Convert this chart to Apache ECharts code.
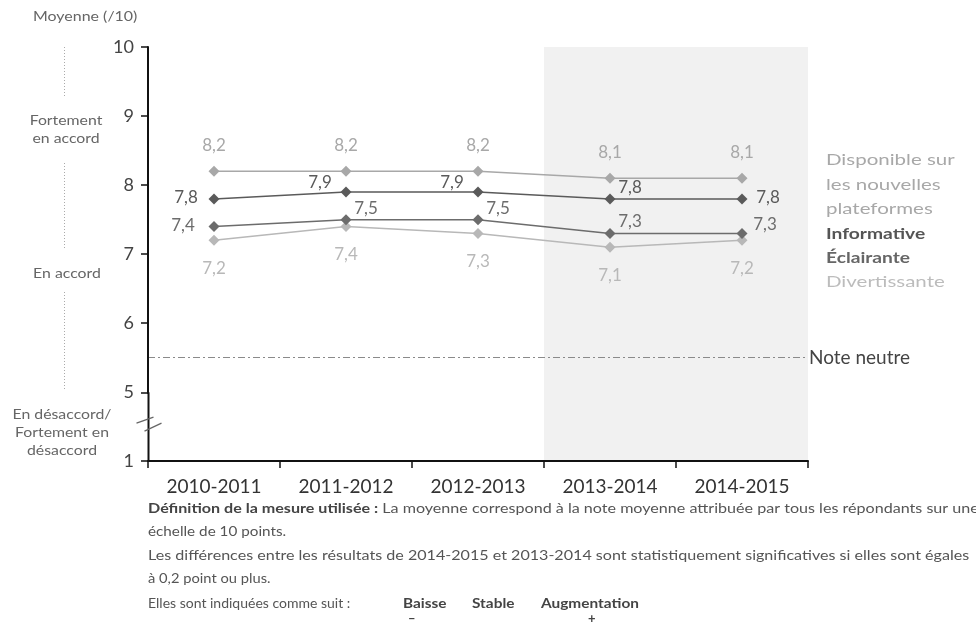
<!DOCTYPE html>
<html>
<head>
<meta charset="utf-8">
<script src="https://cdn.jsdelivr.net/npm/echarts@6/dist/echarts.min.js"></script>
<style>
  html, body { margin: 0; padding: 0; background: #fff; }
  #chart { width: 976px; height: 626px; }
</style>
</head>
<body>
<div id="chart"></div>
<script>
// Années de mesure
const years = ['2010-2011', '2011-2012', '2012-2013', '2013-2014', '2014-2015'];
// Années mises en évidence (fond gris)
const shadedYears = ['2013-2014', '2014-2015'];

// Moyennes (/10) par attribut
const disponible = [8.2, 8.2, 8.2, 8.1, 8.1];
const informative = [7.8, 7.9, 7.9, 7.8, 7.8];
const eclairante = [7.4, 7.5, 7.5, 7.3, 7.3];
const divertissante = [7.2, 7.4, 7.3, 7.1, 7.2];

// Axe vertical : 1, puis 5 à 10 (axe coupé entre 1 et 5)
const yMin = 1;
const yMax = 10;
const yBreak = [1, 5];
const neutralNote = 5.5;

const FONT = 'Lato, "DejaVu Sans", sans-serif';
const fmt = v => String(v).replace('.', ',');

// Décalages des étiquettes (px) autour de chaque point
const infoOffsets = [[-28, -1], [-26, -10], [-26, -10], [20, -11], [26, -1]];
const eclaOffsets = [[-31, -1], [20, -11], [20, -11], [20, -12], [23, -9]];

function withOffsets(values, offsets) {
  return values.map((v, i) => ({
    value: v,
    label: { position: 'inside', offset: offsets[i] }
  }));
}

function lineSeries(name, data, color, labelOpts, z) {
  return {
    name: name,
    type: 'line',
    data: data,
    z: z,
    symbol: 'diamond',
    symbolSize: 11,
    lineStyle: { color: color, width: 1.5 },
    itemStyle: { color: color },
    label: Object.assign({
      show: true,
      color: color,
      fontFamily: FONT,
      fontSize: 17,
      formatter: p => fmt(p.value)
    }, labelOpts),
    emphasis: { disabled: true },
    animation: false
  };
}

const chart = echarts.init(document.getElementById('chart'), null, { renderer: 'canvas' });

const shadeStart = years.indexOf(shadedYears[0]);
const shadeEnd = years.indexOf(shadedYears[shadedYears.length - 1]) + 1;

const series = [
  {
    // fond gris des deux dernières années, sur un axe horizontal auxiliaire
    type: 'line',
    xAxisIndex: 1,
    data: [],
    silent: true,
    z: 0,
    markArea: {
      silent: true,
      itemStyle: { color: '#f1f1f1' },
      data: [[{ xAxis: shadeStart }, { xAxis: shadeEnd }]]
    }
  },
  Object.assign(lineSeries('Divertissante', divertissante, '#b8b8b8', { position: 'bottom', distance: 14 }, 2), {
    markLine: {
      silent: true,
      symbol: 'none',
      lineStyle: { color: '#8a8a8a', width: 1, type: [7, 3, 2, 3] },
      label: { show: true, position: 'end', formatter: 'Note neutre', color: '#444', fontFamily: FONT, fontSize: 19, distance: 1 },
      data: [{ yAxis: neutralNote }]
    }
  }),
  lineSeries('Éclairante', withOffsets(eclairante, eclaOffsets), '#6c6c6c', {}, 4),
  lineSeries('Informative', withOffsets(informative, infoOffsets), '#5a5a5a', {}, 5),
  lineSeries('Disponible sur les nouvelles plateformes', disponible, '#a8a8a8', { position: 'top', distance: 12 }, 3)
];

chart.setOption({
  backgroundColor: '#fff',
  animation: false,
  textStyle: { fontFamily: FONT },
  grid: { left: 148, right: 168, top: 47, bottom: 165, containLabel: false },
  xAxis: [{
    type: 'category',
    data: years,
    boundaryGap: true,
    z: 5,
    axisLine: { lineStyle: { color: '#111', width: 2 } },
    axisTick: { show: true, length: 7, lineStyle: { color: '#111', width: 1.5 } },
    axisLabel: { color: '#333', fontFamily: FONT, fontSize: 19, margin: 16 },
    splitLine: { show: false }
  }, {
    type: 'value',
    min: 0,
    max: years.length,
    show: false
  }],
  yAxis: {
    type: 'value',
    min: yMin,
    max: yMax,
    interval: 1,
    z: 5,
    breaks: [{ start: yBreak[0], end: yBreak[1], gap: '16.6%' }],
    breakArea: { show: false },
    axisLine: { show: true, lineStyle: { color: '#111', width: 2 } },
    axisTick: { show: true, length: 7, lineStyle: { color: '#111', width: 1.5 } },
    axisLabel: { color: '#444', fontFamily: FONT, fontSize: 18, margin: 14 },
    splitLine: { show: false }
  },
  series: series
});

// Textes, lignes pointillées, légende et marque de coupure de l'axe
function buildGraphics() {
  const x0 = chart.convertToPixel({ xAxisIndex: 0 }, years[0]);
  const x1 = chart.convertToPixel({ xAxisIndex: 0 }, years[1]);
  const axisX = x0 - (x1 - x0) / 2 + 0.5;
  const yb = chart.convertToPixel({ yAxisIndex: 0 }, yBreak[0]);
  const y5 = chart.convertToPixel({ yAxisIndex: 0 }, yBreak[1]);
  const mid = (yb + y5) / 2;
  const g = [];
  const small = { fontFamily: FONT, fontSize: 14, fill: '#666' };

  g.push({ type: 'text', x: 33, y: 16, scaleX: 1.14,
    style: Object.assign({ text: 'Moyenne (/10)', verticalAlign: 'middle' }, small) });

  [
    { text: 'Fortement\nen accord', x: 66, y: 129 },
    { text: 'En accord', x: 67, y: 273 },
    { text: 'En désaccord/\nFortement en\ndésaccord', x: 62, y: 432 }
  ].forEach(m => g.push({
    type: 'text', x: m.x, y: m.y, scaleX: 1.13,
    style: Object.assign({ text: m.text, align: 'center', verticalAlign: 'middle', lineHeight: 18 }, small)
  }));

  [[47, 97], [163, 250], [292, 390]].forEach(s => g.push({
    type: 'line', shape: { x1: 64.5, y1: s[0], x2: 64.5, y2: s[1] },
    style: { stroke: '#aaa', lineWidth: 1, lineDash: [1, 2] }
  }));

  // axe vertical continu dans la zone coupée
  g.push({
    type: 'line', z: 100,
    shape: { x1: axisX, y1: y5, x2: axisX, y2: yb },
    style: { stroke: '#111', lineWidth: 2 }
  });
  // marque de coupure « // » sur l'axe vertical
  [[-12, -3.5, 5, -9.5], [-4, 4.5, 13, -3.5]].forEach(d => g.push({
    type: 'line', z: 101,
    shape: { x1: axisX + d[0], y1: mid + d[1], x2: axisX + d[2], y2: mid + d[3] },
    style: { stroke: '#666', lineWidth: 1.3 }
  }));

  // légende
  [
    { text: 'Disponible sur', y: 160, fill: '#a8a8a8', bold: false },
    { text: 'les nouvelles', y: 185, fill: '#a8a8a8', bold: false },
    { text: 'plateformes', y: 209, fill: '#a8a8a8', bold: false },
    { text: 'Informative', y: 234, fill: '#555', bold: true },
    { text: 'Éclairante', y: 258, fill: '#666', bold: true },
    { text: 'Divertissante', y: 282, fill: '#bcbcbc', bold: false }
  ].forEach(l => g.push({
    type: 'text', x: 826, y: l.y, scaleX: l.bold ? 1.2 : 1.28,
    style: { text: l.text, fontFamily: FONT, fontSize: 16, fontWeight: l.bold ? 'bold' : 'normal', fill: l.fill, verticalAlign: 'middle' }
  }));

  // notes explicatives sous le graphique
  const note = { fontFamily: FONT, fontSize: 14, fill: '#555', verticalAlign: 'middle' };
  const rich = { b: { fontWeight: 'bold', fill: '#444', fontFamily: FONT, fontSize: 14 } };
  [
    { y: 508, s: 1.15, text: '{b|Définition de la mesure utilisée :} La moyenne correspond à la note moyenne attribuée par tous les répondants sur une' },
    { y: 531, s: 1.09, text: 'échelle de 10 points.' },
    { y: 555, s: 1.15, text: 'Les différences entre les résultats de 2014-2015 et 2013-2014 sont statistiquement significatives si elles sont égales' },
    { y: 578, s: 1.05, text: 'à 0,2 point ou plus.' },
    { y: 603, s: 1.0, text: 'Elles sont indiquées comme suit :' }
  ].forEach(l => g.push({
    type: 'text', x: 148, y: l.y, scaleX: l.s,
    style: Object.assign({ text: l.text, rich: rich }, note)
  }));
  [['Baisse', 403], ['Stable', 472], ['Augmentation', 541]].forEach(t => g.push({
    type: 'text', x: t[1], y: 603, scaleX: 1.1,
    style: { text: t[0], fontFamily: FONT, fontSize: 14, fontWeight: 'bold', fill: '#444', verticalAlign: 'middle' }
  }));
  [['–', 408], ['+', 588]].forEach(t => g.push({
    type: 'text', x: t[1], y: 619,
    style: { text: t[0], fontFamily: FONT, fontSize: 13, fontWeight: 'bold', fill: '#444', verticalAlign: 'middle' }
  }));
  chart.setOption({ graphic: g });
}
buildGraphics();
</script>
</body>
</html>
